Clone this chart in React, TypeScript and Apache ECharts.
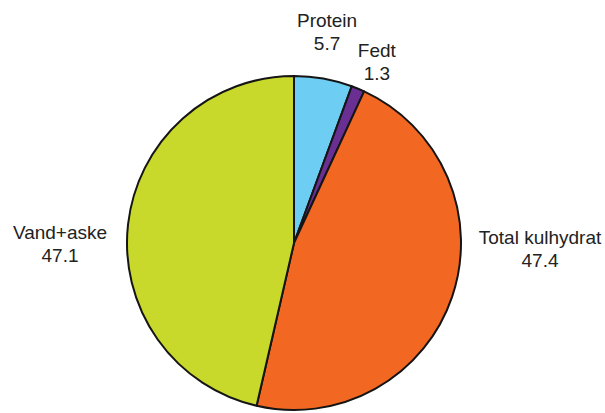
import React, { useEffect, useRef } from "react";
import * as echarts from "echarts";

const categories = ["Protein", "Fedt", "Total kulhydrat", "Vand+aske"];
const values = [5.7, 1.3, 47.4, 47.1];
const valueLabels = ["5.7", "1.3", "47.4", "47.1"];
const colors = ["#6dcdf2", "#6a2f93", "#f26722", "#c8d92b"];

export default function App() {
  const ref = useRef<HTMLDivElement>(null);

  useEffect(() => {
    if (!ref.current) return;
    const chart = echarts.init(ref.current, undefined, { renderer: "svg" });
    const cx = 294;
    const cy = 243;
    // label placement around the pie (angle clockwise from top in degrees, distance from centre)
    const labelPlace = [
      [8.9, 213.6],
      [24.6, 199.1],
      [91.4, 246.1],
      [269.75, 234],
    ];
    chart.setOption({
      animation: false,
      backgroundColor: "#ffffff",
      series: [
        {
          type: "pie",
          center: [cx, cy],
          radius: 167,
          startAngle: 90,
          clockwise: true,
          avoidLabelOverlap: false,
          itemStyle: { borderColor: "#151515", borderWidth: 2 },
          label: {
            show: true,
            position: "outside",
            formatter: (p: any) => `${p.name}\n${valueLabels[p.dataIndex]}`,
            fontFamily: "Liberation Sans",
            fontSize: 19,
            lineHeight: 23,
            color: "#222222",
            align: "center",
          },
          labelLine: { show: false },
          labelLayout: (p: any) => {
            const [a, d] = labelPlace[p.dataIndex];
            const rad = (a * Math.PI) / 180;
            return {
              x: cx + d * Math.sin(rad),
              y: cy - d * Math.cos(rad),
              align: "center",
              verticalAlign: "middle",
            };
          },
          emphasis: { disabled: true },
          data: categories.map((c, i) => ({
            name: c,
            value: values[i],
            itemStyle: { color: colors[i] },
          })),
        },
      ],
    });
    return () => chart.dispose();
  }, []);

  return (
    <div
      ref={ref}
      style={{ position: "fixed", left: 0, top: 0, width: 605, height: 413 }}
    />
  );
}
